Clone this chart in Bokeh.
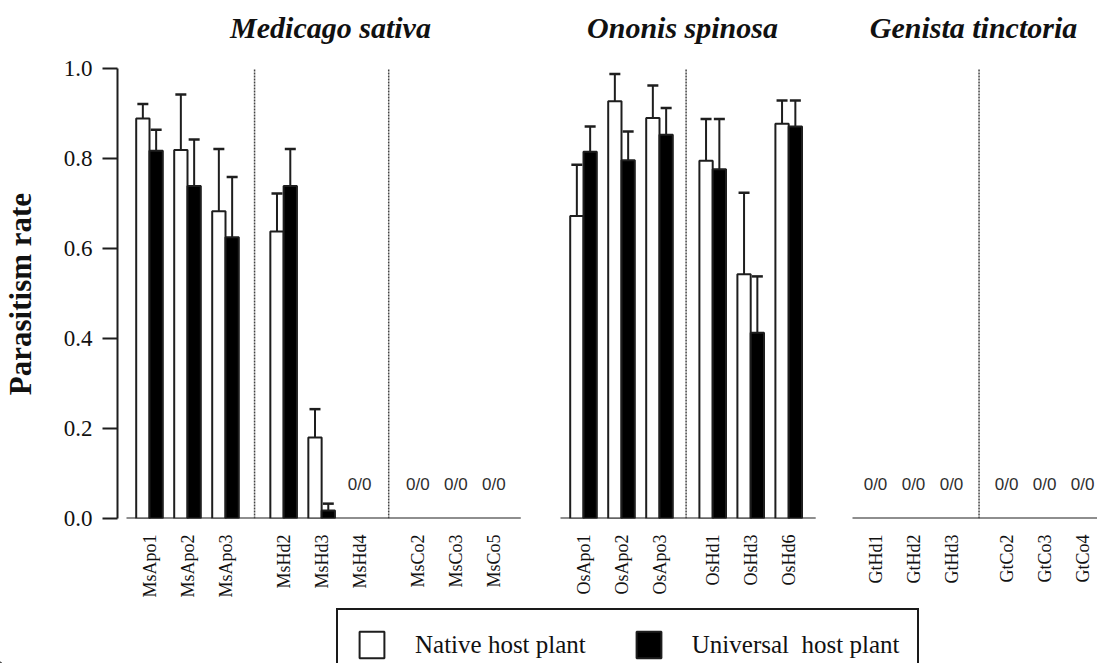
import math
from bokeh.plotting import figure
from bokeh.layouts import row, column
from bokeh.models import (ColumnDataSource, Range1d, FixedTicker, Whisker, TeeHead,
                          Legend, LegendItem, PrintfTickFormatter)
from bokeh.core.properties import value
from bokeh.embed import file_html
from bokeh.resources import INLINE

nan = float("nan")

# ---------------- data ----------------
panel_titles = ["Medicago sativa", "Ononis spinosa", "Genista tinctoria"]
panel_groups = [
    [["MsApo1", "MsApo2", "MsApo3"], ["MsHd2", "MsHd3", "MsHd4"], ["MsCo2", "MsCo3", "MsCo5"]],
    [["OsApo1", "OsApo2", "OsApo3"], ["OsHd1", "OsHd3", "OsHd6"]],
    [["GtHd1", "GtHd2", "GtHd3"], ["GtCo2", "GtCo3", "GtCo4"]],
]
native_rate = [0.889, 0.819, 0.683, 0.638, 0.180, nan, nan, nan, nan,
               0.672, 0.927, 0.890, 0.795, 0.543, 0.877,
               nan, nan, nan, nan, nan, nan]
native_upper = [0.921, 0.942, 0.821, 0.722, 0.243, nan, nan, nan, nan,
                0.786, 0.988, 0.962, 0.888, 0.724, 0.929,
                nan, nan, nan, nan, nan, nan]
universal_rate = [0.817, 0.739, 0.625, 0.739, 0.018, nan, nan, nan, nan,
                  0.815, 0.796, 0.853, 0.776, 0.413, 0.871,
                  nan, nan, nan, nan, nan, nan]
universal_upper = [0.864, 0.842, 0.759, 0.821, 0.033, nan, nan, nan, nan,
                   0.871, 0.860, 0.912, 0.888, 0.538, 0.929,
                   nan, nan, nan, nan, nan, nan]
empty_label = "0/0"
y_ticks = [0.0, 0.2, 0.4, 0.6, 0.8, 1.0]
y_title = "Parasitism rate"
legend_labels = ["Native host plant", "Universal  host plant"]

# ---------------- layout (pixel x units) ----------------
W, H = 1097, 663
panel_origin = [149, 583, 875]
slot = 38.0
group_gap = [0.53, 0.40, 0.45]
bar_w = 13.3
X0, X1 = 117, W
Y0PX, PX_PER_UNIT = 518, 450
title_x = [330, 682, 973]

centers, names = [], []
dividers, baselines = [], []
for pi, groups in enumerate(panel_groups):
    k = 0
    pc = []
    last_of_prev = None
    for gi, grp in enumerate(groups):
        first = None
        for nm in grp:
            c = panel_origin[pi] + slot * (k + gi * group_gap[pi])
            if first is None:
                first = c
            centers.append(c)
            names.append(nm)
            pc.append(c)
            k += 1
        if last_of_prev is not None:
            dividers.append((last_of_prev + first) / 2)
        last_of_prev = pc[-1]
    b0 = pc[0] - 23
    b1 = pc[-1] + 27 if pi < len(panel_groups) - 1 else X1
    baselines.append((b0, b1))

has = [not math.isnan(v) for v in native_rate]
idx = [i for i in range(len(centers)) if has[i]]
src_n = ColumnDataSource(dict(x=[centers[i] - bar_w / 2 for i in idx],
                              top=[native_rate[i] for i in idx],
                              up=[native_upper[i] for i in idx]))
src_u = ColumnDataSource(dict(x=[centers[i] + bar_w / 2 for i in idx],
                              top=[universal_rate[i] for i in idx],
                              up=[universal_upper[i] for i in idx]))

SERIF = "Liberation Serif"
INK = "#111111"
LINE = "#1e1e1e"

# ---------------- y-title strip ----------------
LW = 40
MH = 600
pl = figure(width=LW, height=MH, output_backend="svg", toolbar_location=None,
            x_range=Range1d(0, LW), y_range=Range1d(0, MH),
            x_axis_type=None, y_axis_type=None, min_border=0)
pl.outline_line_color = None
pl.text(x=[20], y=[MH - 340], text=[y_title], angle=math.pi / 2,
        text_font=value(SERIF), text_font_size="31px", text_font_style="bold",
        text_color=INK, text_align="center", text_baseline="middle")

# ---------------- main chart ----------------
MW = W - LW
p = figure(width=MW, height=MH, output_backend="svg", toolbar_location=None,
           x_range=Range1d(X0, X1), y_range=Range1d(0, Y0PX / PX_PER_UNIT),
           min_border_left=X0 - LW, min_border_right=0, min_border_top=0,
           min_border_bottom=MH - Y0PX)
p.outline_line_color = None
p.xgrid.visible = False
p.ygrid.visible = False

p.segment(x0=[b[0] for b in baselines], x1=[b[1] for b in baselines],
          y0=[0] * 3, y1=[0] * 3, line_color=LINE, line_width=2)
p.segment(x0=dividers, x1=dividers, y0=[0] * len(dividers), y1=[1.0] * len(dividers),
          line_color="#444444", line_width=1.5, line_dash="2 1")

rn = p.vbar(x="x", top="top", bottom=0, width=bar_w, source=src_n,
            fill_color="white", line_color=LINE, line_width=2)
ru = p.vbar(x="x", top="top", bottom=0, width=bar_w, source=src_u,
            fill_color="black", line_color=LINE, line_width=2)

for src in (src_n, src_u):
    p.add_layout(Whisker(source=src, base="x", lower="top", upper="up",
                         dimension="height", line_color=LINE, line_width=2,
                         upper_head=TeeHead(size=11, line_color=LINE, line_width=2.5),
                         lower_head=None))

zx = [centers[i] for i in range(len(centers)) if not has[i]]
p.text(x=zx, y=[0.075] * len(zx), text=[empty_label] * len(zx),
       text_font=value("Liberation Sans"), text_font_size="17px",
       text_color="#2e2e2e", text_align="center", text_baseline="middle")

p.text(x=title_x, y=[1.091] * 3, text=panel_titles, text_font=value(SERIF),
       text_font_size="30px", text_font_style="bold italic", text_color=INK,
       text_align="center", text_baseline="middle")

ya = p.yaxis[0]
ya.bounds = (0, 1)
ya.ticker = FixedTicker(ticks=y_ticks)
ya.formatter = PrintfTickFormatter(format="%.1f")
ya.major_tick_out = 15
ya.major_tick_in = 0
ya.minor_tick_line_color = None
ya.axis_line_width = 2
ya.axis_line_color = LINE
ya.major_tick_line_width = 2
ya.major_tick_line_color = LINE
ya.major_label_text_font = SERIF
ya.major_label_text_font_size = "23px"
ya.major_label_text_color = INK
ya.major_label_standoff = 10

xa = p.xaxis[0]
tick_pos = [int(round(c)) for c in centers]
xa.ticker = FixedTicker(ticks=tick_pos)
xa.major_label_overrides = {t: n for t, n in zip(tick_pos, names)}
xa.major_label_orientation = math.pi / 2
xa.axis_line_color = None
xa.major_tick_line_color = None
xa.minor_tick_line_color = None
xa.major_label_standoff = 10
xa.major_label_text_font = SERIF
xa.major_label_text_font_size = "18px"
xa.major_label_text_color = INK

# ---------------- legend strip ----------------
LH = H - MH
pg = figure(width=W, height=LH, output_backend="svg", toolbar_location=None,
            x_range=Range1d(0, W), y_range=Range1d(0, LH),
            x_axis_type=None, y_axis_type=None, min_border=0)
pg.outline_line_color = None
# off-canvas proxies, only so that the legend can draw its swatches
proxy = ColumnDataSource(dict(x=[-500], top=[1]))
gn = pg.vbar(x="x", top="top", bottom=0, width=1, source=proxy,
             fill_color="white", line_color=LINE, line_width=2)
gu = pg.vbar(x="x", top="top", bottom=0, width=1, source=proxy,
             fill_color="black", line_color=LINE, line_width=2)
leg_pad, leg_gh = 18, 33
leg_top = 612 - MH
leg_h = 2 * leg_pad + leg_gh
legend = Legend(items=[LegendItem(label=legend_labels[0], renderers=[gn]),
                       LegendItem(label=legend_labels[1], renderers=[gu])],
                orientation="horizontal",
                location=(336, LH - leg_top - leg_h),
                border_line_color="#1a1a1a", border_line_width=2, border_line_alpha=1.0,
                padding=leg_pad, spacing=47, label_standoff=28,
                glyph_width=31, glyph_height=leg_gh,
                label_text_font=SERIF, label_text_font_size="25px",
                label_text_color=INK, background_fill_alpha=1.0, margin=0)
pg.add_layout(legend, "center")

layout = column(row(pl, p), pg)
open("out.html", "w").write(file_html(layout, INLINE))
